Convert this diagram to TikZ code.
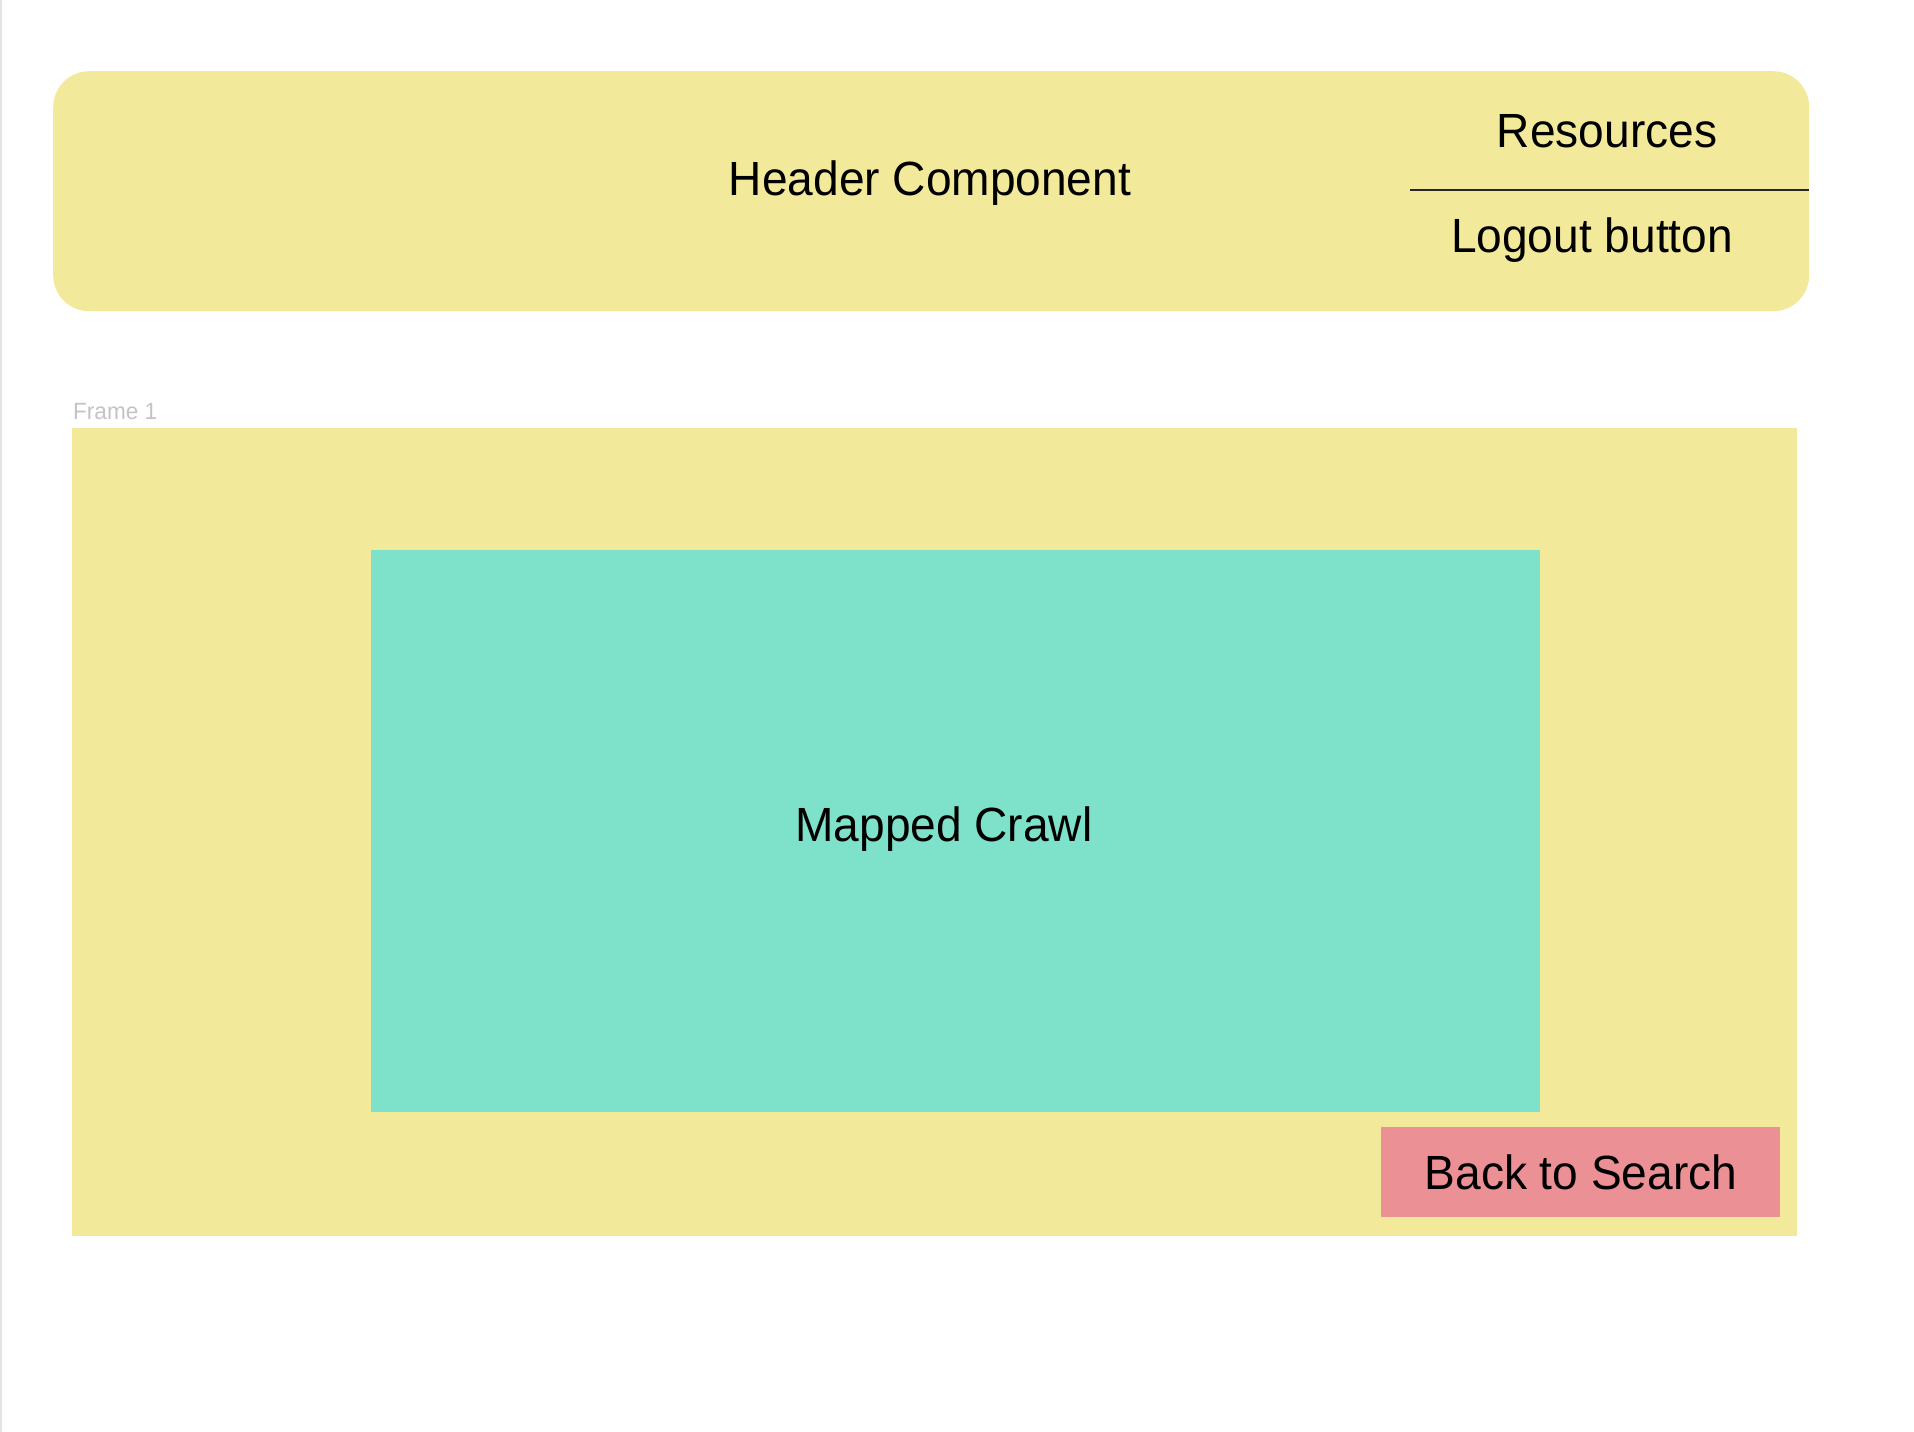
\documentclass[tikz,border=0pt]{standalone}
\usepackage{fontspec}
\setmainfont{Liberation Sans}[FakeStretch=0.96]
\definecolor{pad}{HTML}{F2EA9A}
\definecolor{teal}{HTML}{7EE2CB}
\definecolor{pinkbtn}{HTML}{EB9095}
\definecolor{framegray}{HTML}{C4C4C4}
\definecolor{edgegray}{HTML}{E3E3E3}
\begin{document}
\begin{tikzpicture}[x=1pt,y=-1pt,
  big/.style={font=\fontsize{48}{56}\selectfont, text=black, inner sep=0pt, anchor=base},
  block/.style={draw=none, inner sep=0pt, anchor=north west}]
\useasboundingbox (0,0) rectangle (1914,1432);
\fill[white] (0,0) rectangle (1914,1432);
\fill[edgegray] (0,0) rectangle (2,1432);
% header
\node[block, fill=pad, rounded corners=36pt, minimum width=1756pt, minimum height=240pt] (header) at (53,71) {};
\coordinate (sepL) at (1410,190);
\coordinate (sepR) at (1809,190);
\draw[line width=1.5pt, black!85] (sepL) -- (sepR);
\node[big] (hc) at (930,195) {Header Component};
\node[big] (res) at (1607,147) {Resources};
\node[big] (logout) at (1592,252) {Logout button};
% frame
\node[font=\fontsize{23.5}{28}\selectfont, text=framegray, inner sep=0pt, anchor=base west] (flabel) at (73,419) {Frame 1};
\node[block, fill=pad, minimum width=1725pt, minimum height=808pt] (frame) at (72,428) {};
\node[block, fill=teal, minimum width=1169pt, minimum height=562pt] (map) at (371,550) {};
\node[big] (maptext) at (944,841) {Mapped Crawl};
\node[block, fill=pinkbtn, minimum width=399pt, minimum height=90pt] (back) at (1381,1127) {};
\node[big] (backtext) at (1581,1189) {Back to Search};
\end{tikzpicture}
\end{document}
